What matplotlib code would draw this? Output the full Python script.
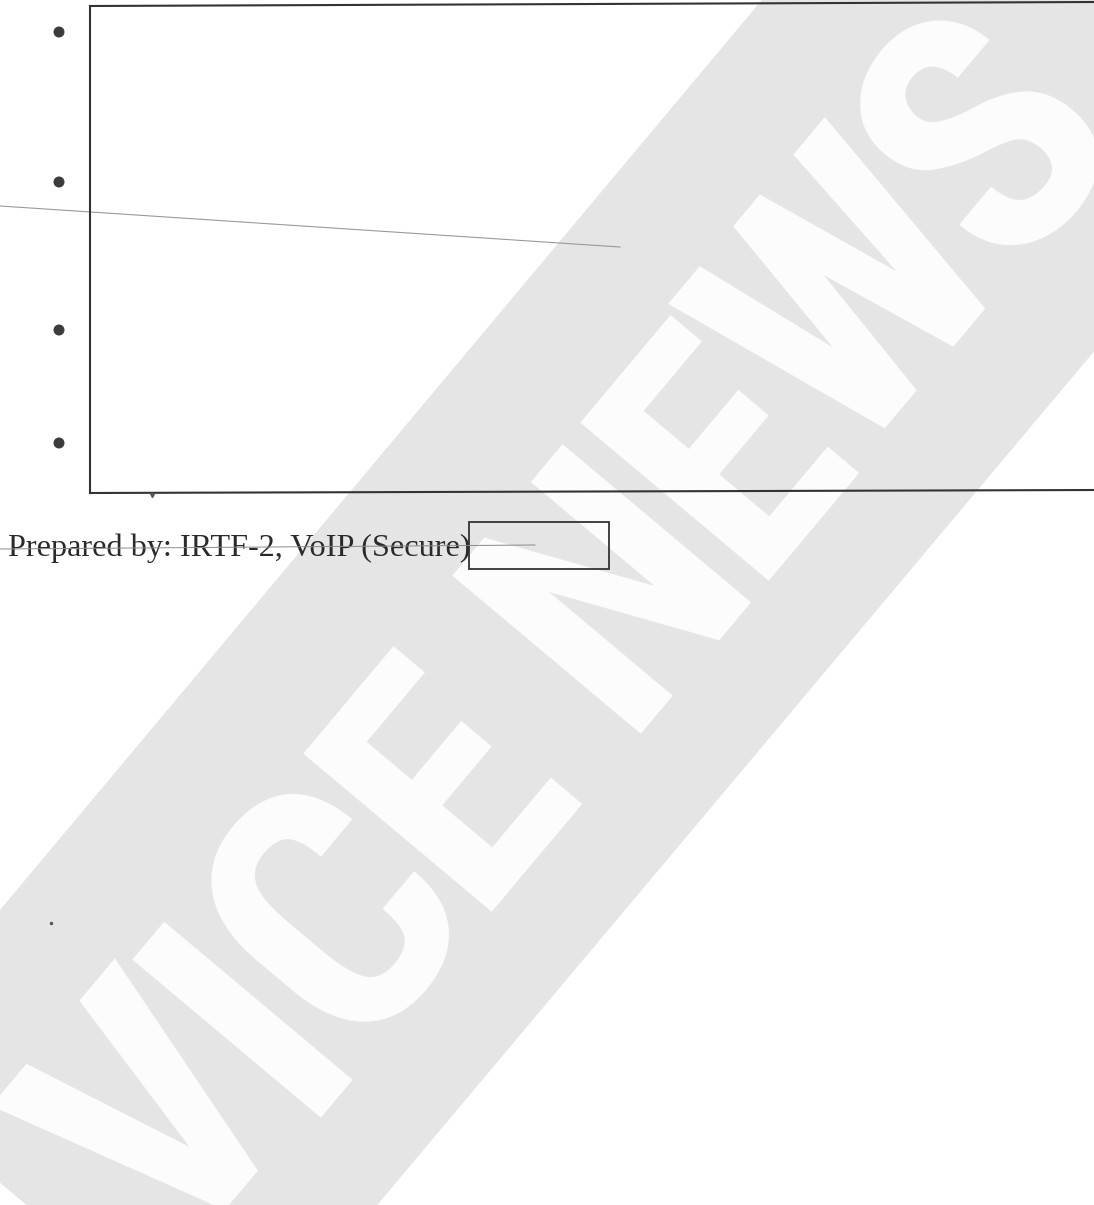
import re
import matplotlib
matplotlib.use("Agg")
import matplotlib.pyplot as plt
import numpy as np
from matplotlib import font_manager as fm
from matplotlib.ft2font import FT2Font
from matplotlib.patches import Polygon, Rectangle, Circle

# page content (pixel positions on the scanned page)
bullet_x = 59
bullet_y = [32, 182, 330, 443]
footer_label = "Prepared by: IRTF-2, VoIP (Secure)"
watermark = "VICE NEWS"

W, H = 1094, 1205
fig = plt.figure(figsize=(W / 100, H / 100), dpi=100)
ax = fig.add_axes([0, 0, 1, 1])
ax.set_xlim(0, W)
ax.set_ylim(H, 0)
ax.axis("off")


def pick_condensed_bold():
    """Find a narrow/condensed bold face among installed fonts."""
    prefs = ["liberationsansnarrow", "robotocondensed", "dejavusanscondensed",
             "opensanscondensed", "notosanscondensed", "condensed", "narrow"]
    files = [f.fname for f in fm.fontManager.ttflist]
    for key in prefs:
        for fn in files:
            base = fn.split("/")[-1].lower().replace("_", "").replace(" ", "")
            if key in base and re.search(r"-?bold\.(ttf|otf)$", base) \
                    and not re.search(r"italic|oblique|semi|extra|black", base):
                return fn
    return fm.findfont(fm.FontProperties(family="DejaVu Sans", weight="bold"))


wm_file = pick_condensed_bold()
wm_font = fm.FontProperties(fname=wm_file)

# watermark band, tilted at about 50 degrees
ang = 50
u = np.array([np.cos(np.deg2rad(ang)), -np.sin(np.deg2rad(ang))])   # along band
n = np.array([np.sin(np.deg2rad(ang)), np.cos(np.deg2rad(ang))])    # across band
left_top = (762 - 0.837 * -500, -500)
right_top = (1389 - 0.84 * -500, -500)
band = Polygon([(-134, 1070), (232, 1378), right_top, left_top], closed=True,
               facecolor="#e5e5e5", edgecolor="none", zorder=1)
ax.add_patch(band)

# lettering: tall condensed caps, tracked to span the band like the scan
cap_px = 245
ft = FT2Font(wm_file)
ft.set_size(100, 72)
cap_ratio = ft.load_char(ord("I")).height / 64 / 100
wm_size = cap_px / cap_ratio * 72 / 100
adv = [ft.load_char(ord(c)).linearHoriAdvance / 65536 for c in watermark]
pen = np.concatenate([[0], np.cumsum(adv)[:-1]])
mid = pen + np.array(adv) / 2
a_first, a_last = -755, 530            # centres of V and S along the band
k = (a_last - a_first) / (mid[-1] - mid[0])
baseline = 948
for ch, m in zip(watermark, mid):
    if ch == " ":
        continue
    a = a_first + k * (m - mid[0])
    p = a * u + baseline * n
    ax.text(p[0], p[1], ch, rotation=ang, rotation_mode="anchor", ha="center",
            va="baseline", color="#fdfdfd", fontsize=wm_size,
            fontproperties=wm_font, zorder=2)

# scanned rule crossing the page
ax.plot([0, 620], [206, 247], color="#9a9a9a", lw=0.8, zorder=3)

# big frame, its right edge runs off the page
ax.plot([90, 90], [6, 493], color="#333333", lw=1.5, zorder=4)
ax.plot([90, W], [6, 2], color="#333333", lw=1.5, zorder=4)
ax.plot([90, W], [493, 490], color="#333333", lw=1.5, zorder=4)

# bullets
for by in bullet_y:
    ax.add_patch(Circle((bullet_x, by), 5.5, facecolor="#3c3c3c", edgecolor="none", zorder=4))

# footer line
ax.text(8, 548, footer_label, ha="left", va="center", fontsize=23.2,
        family="Liberation Serif", color="#2a2a2a", zorder=4)
ax.plot([0, 535], [549, 545], color="#8a8a8a", lw=0.7, zorder=5)
ax.add_patch(Rectangle((469, 522), 140, 47, facecolor="none", edgecolor="#333333",
                       lw=1.3, zorder=4))

# specks of the scan
ax.plot([152], [495], marker="v", ms=3, color="#555555", zorder=4)
ax.plot([51], [923], marker="o", ms=1.5, color="#555555", zorder=4)

fig.savefig("out.png", dpi=100)
